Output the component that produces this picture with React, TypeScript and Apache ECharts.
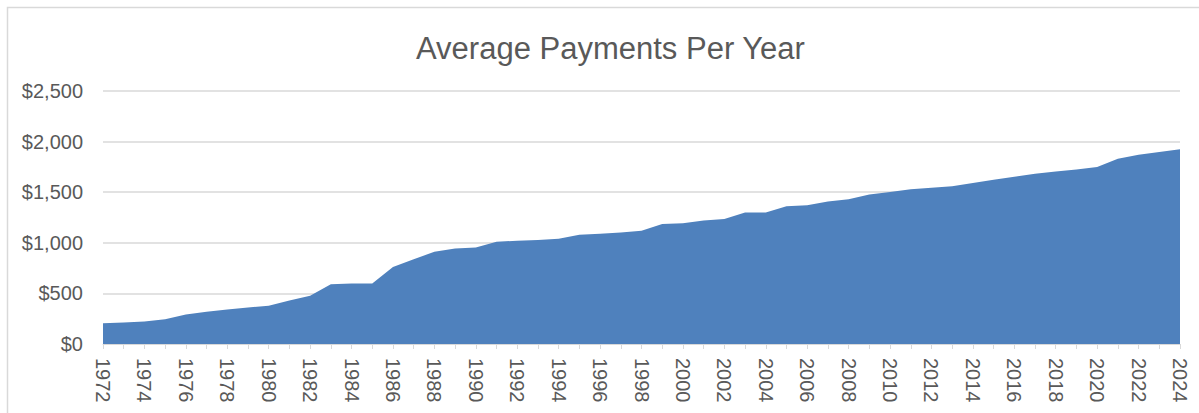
import React, { useEffect, useRef } from "react";
import * as echarts from "echarts";

const years: string[] = [
  "1972","1973","1974","1975","1976","1977","1978","1979","1980","1981",
  "1982","1983","1984","1985","1986","1987","1988","1989","1990","1991",
  "1992","1993","1994","1995","1996","1997","1998","1999","2000","2001",
  "2002","2003","2004","2005","2006","2007","2008","2009","2010","2011",
  "2012","2013","2014","2015","2016","2017","2018","2019","2020","2021",
  "2022","2023","2024",
];

const payments: number[] = [
  206, 212, 222, 245, 292, 318, 341, 361, 378, 431,
  477, 590, 597, 597, 762, 838, 911, 944, 954, 1011,
  1021, 1027, 1040, 1080, 1090, 1103, 1120, 1186, 1194, 1220,
  1236, 1299, 1299, 1362, 1372, 1408, 1431, 1477, 1503, 1530,
  1543, 1560, 1590, 1622, 1652, 1682, 1705, 1725, 1748, 1831,
  1871, 1897, 1924,
];

const titleText = "Average Payments Per Year";
const yMin = 0;
const yMax = 2500;
const yStep = 500;

const FONT = "'Liberation Sans', Arial, sans-serif";
const TEXT_COLOR = "#595959";
const GRID_COLOR = "#d9d9d9";

export default function App() {
  const ref = useRef<HTMLDivElement>(null);

  useEffect(() => {
    if (!ref.current) return;
    const chart = echarts.init(ref.current, undefined, { renderer: "svg" });
    chart.setOption({
      animation: false,
      backgroundColor: "#ffffff",
      textStyle: { fontFamily: FONT },
      title: {
        text: titleText,
        left: 411,
        top: 28,
        textStyle: {
          fontFamily: FONT,
          fontSize: 31,
          fontWeight: "normal",
          color: TEXT_COLOR,
        },
      },
      graphic: [
        {
          type: "rect",
          shape: { x: 7.5, y: 7.5, width: 1250, height: 450 },
          style: { fill: "none", stroke: GRID_COLOR, lineWidth: 1.5 },
          silent: true,
          z: -10,
        },
      ],
      grid: { left: 103, right: 19, top: 91, bottom: 69, containLabel: false },
      xAxis: {
        type: "category",
        data: years,
        boundaryGap: false,
        axisLine: { lineStyle: { color: GRID_COLOR, width: 1 } },
        axisTick: {
          show: true,
          interval: 0,
          length: 5,
          lineStyle: { color: GRID_COLOR, width: 1 },
        },
        axisLabel: {
          interval: 1,
          rotate: -90,
          margin: 14,
          fontSize: 20,
          color: TEXT_COLOR,
          fontFamily: FONT,
        },
        splitLine: { show: false },
      },
      yAxis: {
        type: "value",
        min: yMin,
        max: yMax,
        interval: yStep,
        axisLine: { show: false },
        axisTick: { show: false },
        axisLabel: {
          margin: 20,
          fontSize: 20,
          color: TEXT_COLOR,
          fontFamily: FONT,
          formatter: (v: number) => "$" + v.toLocaleString("en-US"),
        },
        splitLine: { lineStyle: { color: GRID_COLOR, width: 1.5 } },
      },
      series: [
        {
          type: "line",
          data: payments,
          symbol: "none",
          lineStyle: { width: 0, color: "#4f81bd" },
          itemStyle: { color: "#4f81bd" },
          areaStyle: { color: "#4f81bd", opacity: 1 },
        },
      ],
    });
    return () => chart.dispose();
  }, []);

  return (
    <div
      ref={ref}
      style={{ position: "absolute", left: 0, top: 0, width: 1199, height: 413 }}
    />
  );
}
